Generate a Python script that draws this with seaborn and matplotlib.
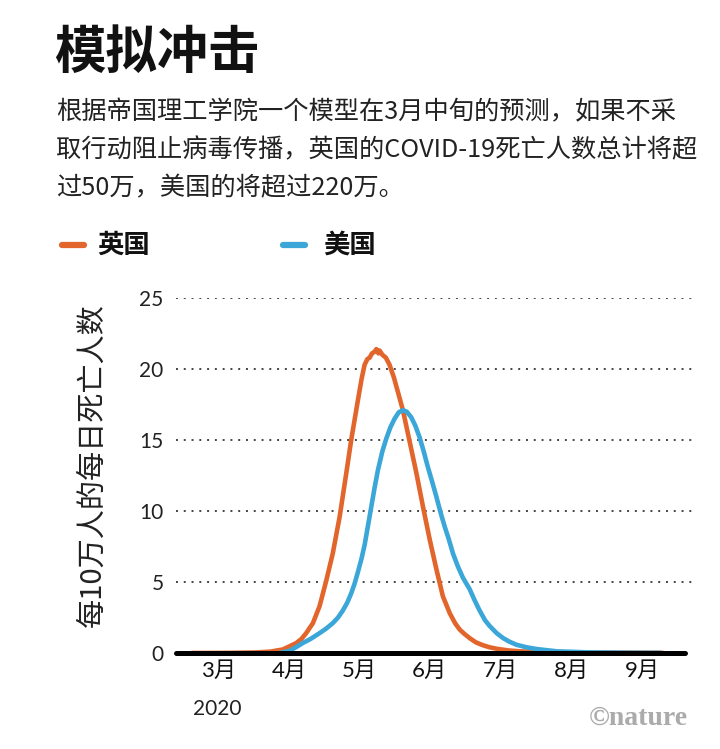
import matplotlib
matplotlib.use("Agg")
import matplotlib.pyplot as plt
from matplotlib.lines import Line2D
import seaborn as sns
import pandas as pd

# ---------------- data ----------------
title = "模拟冲击"
subtitle_lines = [
    "根据帝国理工学院一个模型在3月中旬的预测，如果不采",
    "取行动阻止病毒传播，英国的COVID-19死亡人数总计将超",
    "过50万，美国的将超过220万。",
]
series_names = ["英国", "美国"]
series_colors = ["#E2652C", "#3BA6D8"]
ylabel = "每10万人的每日死亡人数"
year_label = "2020"
credit = "©nature"

# days since 1 March 2020
uk_days = [4, 20, 32, 38, 43.4, 46, 49.2, 51.5, 53.5, 56.4, 59.3, 62.2, 65, 68,
           70.9, 73, 75.9, 77.5, 78.8, 80, 81, 82, 83, 83.9, 84.8, 85.3, 86.5, 88,
           89.6, 91.5, 93.2, 95.4, 98.3, 101.2, 104.1, 107, 109.9, 112.7, 115.7,
           118, 120, 122, 124.3, 127, 130, 133, 136, 141, 146, 155, 170, 190, 208]
uk_vals = [0.0, 0.01, 0.04, 0.1, 0.25, 0.45, 0.7, 1.0, 1.4, 2.1, 3.3, 5.1, 7.0,
           9.6, 12.7, 15.0, 17.8, 19.3, 20.3, 20.7, 20.8, 21.1, 21.2, 21.4, 21.1,
           21.3, 21.0, 20.8, 20.3, 19.4, 18.4, 17.1, 14.9, 12.7, 10.3, 8.0, 5.9,
           4.0, 2.8, 2.1, 1.65, 1.35, 1.05, 0.75, 0.55, 0.4, 0.3, 0.18, 0.12, 0.06,
           0.03, 0.02, 0.01]
us_days = [42, 46.3, 49, 52, 55.5, 59.3, 62, 65, 67.3, 69.4, 71.3, 73, 74.5, 75.9,
           77.4, 78.8, 80.2, 81.7, 83.2, 84.6, 86.5, 88.2, 90, 91.8, 93.6, 95.4,
           97, 99, 100.8, 102.6, 104.4, 106.2, 108, 109.9, 111.7, 113.5, 115.3,
           117.1, 119.2, 121.4, 124.3, 126.5, 128.6, 131, 133, 136, 138.8, 141.5,
           144.6, 149, 153.3, 162, 175, 190, 207]
us_vals = [0.0, 0.15, 0.4, 0.7, 1.0, 1.4, 1.7, 2.1, 2.5, 3.0, 3.55, 4.2, 4.9, 5.7,
           6.6, 7.6, 8.9, 10.3, 11.7, 12.9, 14.2, 15.1, 15.9, 16.5, 16.95, 17.1,
           17.0, 16.6, 16.0, 15.2, 14.2, 13.1, 12.1, 11.0, 9.9, 8.9, 8.0, 7.0, 6.1,
           5.3, 4.5, 3.7, 3.0, 2.3, 1.9, 1.4, 1.05, 0.8, 0.58, 0.4, 0.28, 0.12,
           0.05, 0.02, 0.01]

month_starts = [0, 31, 61, 92, 122, 153, 184, 214]
month_labels = ["3月", "4月", "5月", "6月", "7月", "8月", "9月"]
y_ticks = [0, 5, 10, 15, 20, 25]

df = pd.concat([
    pd.DataFrame({"day": uk_days, "value": uk_vals, "country": series_names[0]}),
    pd.DataFrame({"day": us_days, "value": us_vals, "country": series_names[1]}),
])

# ---------------- style ----------------
sns.set_theme(style="white")
plt.rcParams["font.family"] = ["Noto Sans CJK SC", "DejaVu Sans"]

W, H = 720, 749
fig = plt.figure(figsize=(W / 100, H / 100), dpi=100)

def fx(px):
    return px / W

def fy(py):
    return 1 - py / H

ax = fig.add_axes([fx(176), fy(653), fx(697) - fx(176), fy(298) - fy(653)])

palette = dict(zip(series_names, series_colors))
sns.lineplot(data=df, x="day", y="value", hue="country", palette=palette,
             hue_order=series_names, legend=False, ax=ax, linewidth=3.3,
             estimator=None, sort=True)
for ln in ax.get_lines():
    ln.set_solid_capstyle("round")
    ln.set_solid_joinstyle("round")

ax.set_xlim(-2.9, 222.8)
ax.set_ylim(0, 25)
for s in ax.spines.values():
    s.set_visible(False)

# grid
for v in y_ticks[1:]:
    ax.axhline(v, color="#444444", lw=1.4, ls=(0, (1, 3)), zorder=0)
ax.axhline(0, xmin=0, xmax=(685 - 176) / (697 - 176), color="black", lw=3.6,
           clip_on=False, zorder=5)

ax.set_yticks(y_ticks)
ax.set_yticklabels([str(v) for v in y_ticks], family=["Lato", "DejaVu Sans"],
                   fontsize=15, color="#222222")
ax.tick_params(axis="y", length=0, pad=9)

ax.set_xticks(month_starts)
ax.set_xticklabels([""] * len(month_starts))
ax.tick_params(axis="x", which="major", length=8, width=1.6, color="#222222",
               direction="out")
mids = [(month_starts[i] + month_starts[i + 1]) / 2 for i in range(len(month_labels))]
ax.set_xticks(mids, minor=True)
ax.set_xticklabels(month_labels, minor=True,
                   family=["Lato", "Noto Sans CJK SC"], fontsize=16, color="#111111")
ax.tick_params(axis="x", which="minor", length=0, pad=6)
ax.set_xlabel("")
ax.set_ylabel("")

# y label
fig.text(fx(93), fy(465), ylabel, rotation=90, ha="center", va="center",
         fontsize=21, color="#222222", family=["Noto Sans CJK SC", "DejaVu Sans"])

# title & subtitle
fig.text(fx(54), fy(52), title, fontsize=37, fontweight="bold", ha="left",
         va="center", color="#111111")
for i, line in enumerate(subtitle_lines):
    fig.text(fx(56), fy(112 + 38 * i), line, fontsize=18.2, ha="left",
             va="center", color="#222222")

# legend
leg_y = fy(245)
for (x0, tx), name, col in zip([(62, 97), (283, 323)], series_names, series_colors):
    fig.add_artist(Line2D([fx(x0), fx(x0 + 22)], [leg_y, leg_y], color=col,
                          lw=4.5, solid_capstyle="round"))
    fig.text(fx(tx), leg_y, name, fontsize=19, fontweight="bold", ha="left",
             va="center", color="#111111")

# year & credit
fig.text(fx(193), fy(709), year_label, fontsize=15, ha="left", va="center",
         family=["Lato", "DejaVu Sans"], color="#222222")
fig.text(fx(688), fy(718), credit, fontsize=20, ha="right", va="center",
         family=["Liberation Serif", "DejaVu Serif"], fontweight="bold",
         color="#ABABAB")

fig.savefig("out.png", dpi=100, facecolor="white")
